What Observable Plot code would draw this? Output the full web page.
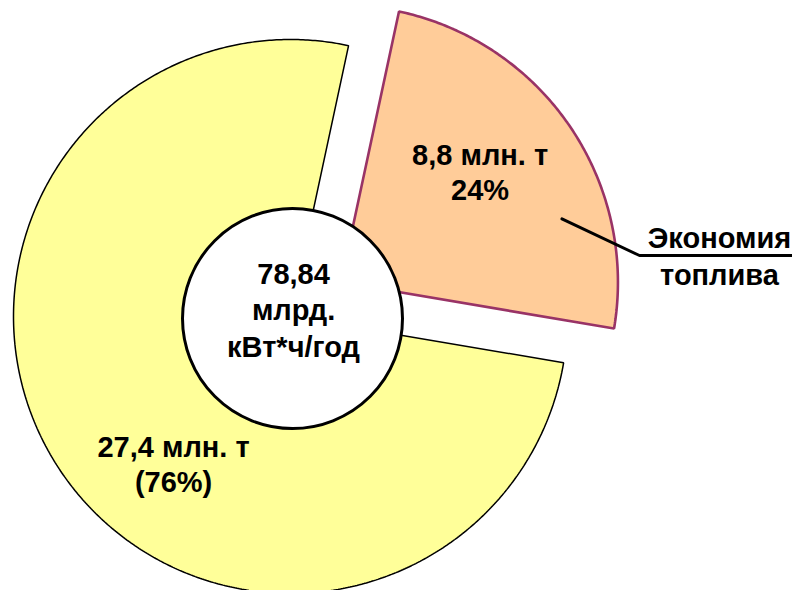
<!DOCTYPE html>
<html>
<head>
<meta charset="utf-8">
<script src="https://cdn.jsdelivr.net/npm/d3@7"></script>
<script src="https://cdn.jsdelivr.net/npm/@observablehq/plot@0.6"></script>
<style>
  html, body { margin: 0; padding: 0; background: #fff; }
  #chart svg { display: block; }
</style>
</head>
<body>
<div id="chart"></div>
<script>
// Fuel balance: saved fuel vs the remainder, million tonnes
const slices = ["Экономия топлива", "Остальное топливо"];
const tonnes = [8.8, 27.4];
const shares = ["24%", "(76%)"];
const totalLines = ["78,84", "млрд.", "кВт*ч/год"];
const calloutLines = ["Экономия", "топлива"];

const fills = ["#FFCC99", "#FFFF99"];
const strokes = ["#993366", "#000000"];
const strokeWidths = [2.6, 1.5];

const W = 792, H = 590;
const cx = 290, cy = 316, R = 277;   // pie centre and radius in px
const deg = Math.PI / 180;
const start = 12.1 * deg;
const explode = [0.22, 0];            // radial offset of each slice, in radii

const arcs = d3.pie().sort(null).value(d => d)
  .startAngle(start).endAngle(start + 2 * Math.PI)(tonnes);

// polar helper: angle clockwise from 12 o'clock, y pointing up
const polar = (r, a, ox = 0, oy = 0) => ({x: ox + r * Math.sin(a), y: oy + r * Math.cos(a)});

const slicePaths = arcs.map((p, i) => {
  const mid = (p.startAngle + p.endAngle) / 2;
  const o = polar(explode[i], mid);
  const n = Math.ceil((p.endAngle - p.startAngle) / (0.5 * deg));
  const pts = [{x: o.x, y: o.y}];
  for (let k = 0; k <= n; k++) {
    const a = p.startAngle + (p.endAngle - p.startAngle) * k / n;
    pts.push(polar(1, a, o.x, o.y));
  }
  pts.push({x: o.x, y: o.y});
  return {name: slices[i], origin: o, mid, pts};
});

const fmt = v => v.toFixed(1).replace(".", ",") + " млн. т";

// label placement (radius in radii, angle in degrees from the slice origin)
const labelPlace = [{r: 0.643, a: 51.4}, {r: 0.678, a: 218.5}];
const sliceLabels = slicePaths.map((s, i) => {
  const p = polar(labelPlace[i].r, labelPlace[i].a * deg, s.origin.x, s.origin.y);
  return {x: p.x, y: p.y, text: fmt(tonnes[i]) + "\n" + shares[i]};
});

const toUnit = (px, py) => ({x: (px - cx) / R, y: (cy - py) / R});
const calloutAnchor = toUnit(719, 254.5);
const leader = [
  polar(0.83, 74 * deg, slicePaths[0].origin.x, slicePaths[0].origin.y),
  toUnit(639, 255),
  toUnit(W, 255)
];

const font = "'Liberation Sans', Arial, Helvetica, sans-serif";
const textStyle = {fontFamily: font, fontWeight: "bold", fontSize: 29, fill: "#000"};

const chart = Plot.plot({
  width: W,
  height: H,
  margin: 0,
  style: {background: "#fff", overflow: "visible"},
  x: {domain: [-1, 1], range: [cx - R, cx + R], axis: null},
  y: {domain: [-1, 1], range: [cy + R, cy - R], axis: null},
  marks: [
    // remainder slice first, exploded saving slice on top
    ...[1, 0].map(i => Plot.line(slicePaths[i].pts, {
      x: "x", y: "y",
      fill: fills[i], stroke: strokes[i], strokeWidth: strokeWidths[i],
      strokeLinejoin: "miter", curve: "linear"
    })),
    // central disc with total generation
    Plot.dot([{x: 0, y: 0}], {
      x: "x", y: "y", r: 110, dx: 2, dy: 2,
      fill: "#fff", stroke: "#000", strokeWidth: 3
    }),
    Plot.text([{x: 0.011, y: 0.029}], {
      x: "x", y: "y", text: () => totalLines.join("\n"),
      lineHeight: 1.26, ...textStyle
    }),
    Plot.text(sliceLabels, {x: "x", y: "y", text: "text", lineHeight: 1.22, ...textStyle}),
    // callout for the saving slice
    Plot.line(leader, {x: "x", y: "y", stroke: "#000", strokeWidth: 3, curve: "linear"}),
    Plot.text([calloutAnchor], {
      x: "x", y: "y", text: () => calloutLines.join("\n"),
      lineHeight: 1.28, ...textStyle
    })
  ]
});

document.getElementById("chart").appendChild(chart);
</script>
</body>
</html>
